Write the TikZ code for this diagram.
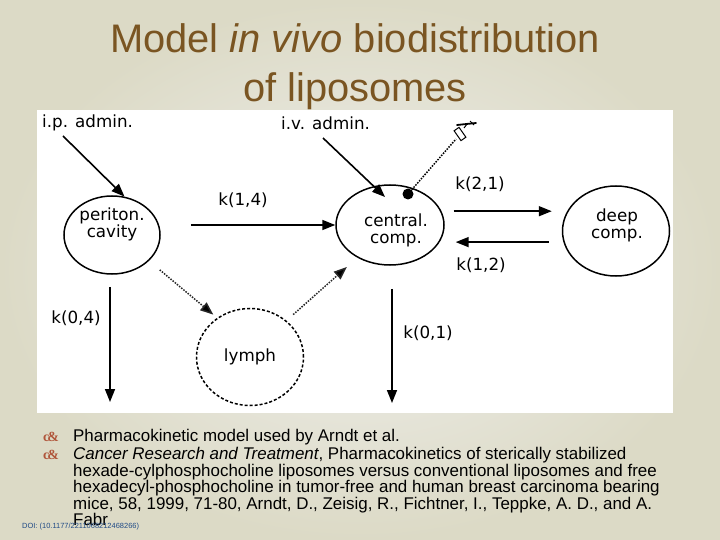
\documentclass[tikz,border=0pt]{standalone}
\usepackage{fontspec}
\setmainfont{Liberation Sans}
\newfontfamily\diafont{DejaVu Sans}
\newfontfamily\serifb{Liberation Serif}
\usetikzlibrary{arrows.meta,shapes.geometric,calc}
\definecolor{titlebrown}{HTML}{7A5522}
\definecolor{bulletred}{HTML}{B0553A}
\definecolor{doiblue}{HTML}{1F4A86}
\definecolor{bgin}{HTML}{F0F0EE}
\definecolor{bgout}{HTML}{DCDAC6}
\begin{document}
\begin{tikzpicture}[x=1bp,y=-1bp,
  comp/.style={ellipse, draw, line width=1.5bp, inner sep=0pt},
  arr/.style={line width=1.6bp, -{Triangle[length=13bp,width=10bp]}},
  darr/.style={line width=1.5bp, dash pattern=on 1.5bp off 1.3bp, draw=black!85, -{Triangle[length=13bp,width=10bp,fill=black]}},
  lab/.style={font=\diafont\fontsize{16.8}{17}\selectfont, inner sep=0pt},
  body/.style={anchor=base west, inner sep=0pt, font=\fontsize{17}{17}\selectfont},
  bul/.style={anchor=base west, inner sep=0pt, text=bulletred, font=\serifb\bfseries\fontsize{14}{14}\selectfont},
]
\useasboundingbox (0,0) rectangle (720,540);
\shade[inner color=bgin, outer color=bgout] (0,0) rectangle (720,540);
\fill[white] (37,110) rectangle (673,413);

% title
\node[anchor=base, inner sep=0pt, text=titlebrown, font=\fontsize{40}{40}\selectfont] (t1) at (355,53) {Model \textit{in vivo} biodistribution};
\node[anchor=base, inner sep=0pt, text=titlebrown, font=\fontsize{40}{40}\selectfont] (t2) at (355,102) {of liposomes};

% compartments
\node[comp, minimum width=96bp, minimum height=78bp] (per) at (112,235) {};
\node[lab, align=center] (pertxt) at (112,224) {periton.\\cavity};
\node[comp, minimum width=108bp, minimum height=80bp] (cen) at (390,225) {};
\node[lab, align=center] (centxt) at (396,230) {central.\\comp.};
\node[comp, minimum width=107bp, minimum height=90bp] (deep) at (616,231) {};
\node[lab, align=center] (deeptxt) at (617,225) {deep\\comp.};
\node[comp, dash pattern=on 3bp off 2bp, minimum width=107bp, minimum height=97bp] (lymph) at (250,357) {};
\node[lab] (lymphtxt) at (250,357) {lymph};

% labels
\node[lab, anchor=west] (iptxt) at (42,123) {i.p. admin.};
\node[lab, anchor=west] (ivtxt) at (281,123) {i.v. admin.};
\node[lab] (k14) at (243,200) {k(1,4)};
\node[lab] (k21) at (480,184) {k(2,1)};
\node[lab] (k12) at (481,265) {k(1,2)};
\node[lab] (k01) at (428,333) {k(0,1)};
\node[lab] (k04) at (76,318) {k(0,4)};

% injection arrows
\coordinate (ipS) at (63,136);
\draw[arr] (ipS) -- (per.72);
\coordinate (ivS) at (323,138);
\coordinate (ivE) at (385,197);
\draw[arr] (ivS) -- (ivE);

% sampling point and syringe
\node[circle, fill, inner sep=0pt, minimum size=11bp] (dot) at (408,194) {};
\coordinate (syr) at (456,139);
\draw[line width=1.5bp, dash pattern=on 1.5bp off 1.3bp] (dot) -- (syr);
\draw[line width=1bp, rotate around={-55:(460,134)}] (454,131) rectangle (466,137);
\draw[line width=1bp] (464,128) -- (467,124);
\draw[line width=1.8bp, line cap=round] (457,125) -- (476,123);
\draw[line width=0.9bp] (470,121) -- (474,125);

% transfer arrows
\draw[arr, shorten <=30bp] (per.east |- cen.west) -- (cen.west);
\draw[arr, shorten <=12bp, shorten >=10bp] (cen.15) -- (cen.15 -| deep.west);
\draw[arr, shorten <=13bp, shorten >=16bp] (cen.-19 -| deep.west) -- (cen.-19);
\coordinate (o1) at (392,403);
\draw[arr, shorten <=23bp] (cen.south -| o1) -- (o1);
\coordinate (o4) at (110,402);
\draw[arr, shorten <=12bp] (per.south -| o4) -- (o4);
\draw[darr, shorten <=14bp, shorten >=5bp] (per.-35) -- (lymph.130);
\draw[darr, shorten <=9bp, shorten >=14bp] (lymph.45) -- (cen.225);

% body text
\node[bul] (b1) at (43,441) {c\kern-2pt\&};
\node[bul] (b2) at (43,459) {c\kern-2pt\&};
\node[body] (l1) at (73,441) {Pharmacokinetic model used by Arndt et al.};
\node[body] (l2) at (73,459) {\textit{Cancer Research and Treatment}, Pharmacokinetics of sterically stabilized};
\node[body] (l3) at (73,476) {hexade-cylphosphocholine liposomes versus conventional liposomes and free};
\node[body] (l4) at (73,492) {hexadecyl-phosphocholine in tumor-free and human breast carcinoma bearing};
\node[body] (l5) at (73,509) {mice, 58, 1999, 71-80, Arndt, D., Zeisig, R., Fichtner, I., Teppke, A. D., and A.};
\node[body] (l6) at (73,525) {Fabr};
\node[anchor=base west, inner sep=0pt, text=doiblue, font=\fontsize{7.5}{8}\selectfont] (doi) at (22,528) {DOI: (10.1177/2211068212468266)};
\end{tikzpicture}
\end{document}
